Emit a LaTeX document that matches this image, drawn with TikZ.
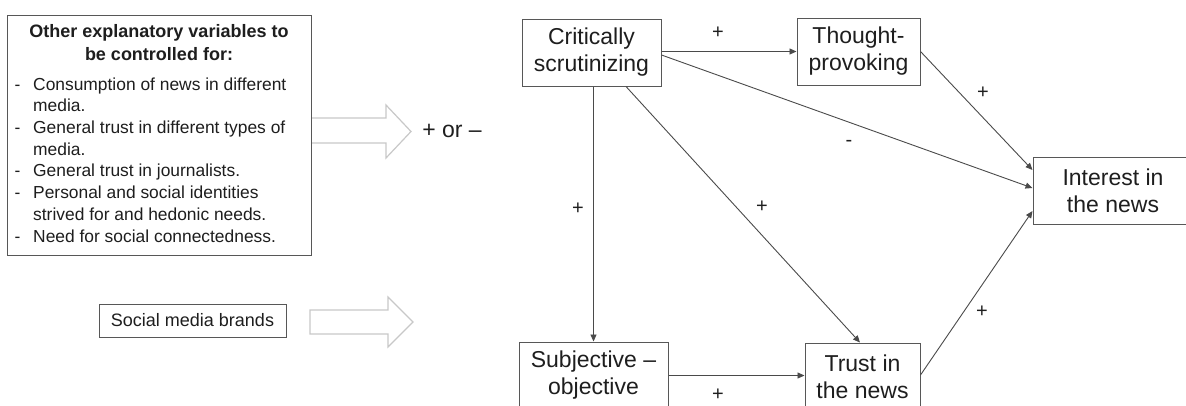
\documentclass[tikz,border=0pt]{standalone}
\usepackage{fontspec}
\setmainfont{Liberation Sans}
\usetikzlibrary{arrows.meta,calc}
\definecolor{boxgray}{HTML}{575757}
\definecolor{linegray}{HTML}{4A4A4A}
\definecolor{arrowgray}{HTML}{C8C8C8}
\definecolor{txt}{HTML}{1E1E1E}
\begin{document}
\begin{tikzpicture}[x=1pt,y=-1pt,
  varbox/.style={draw=boxgray,line width=1pt,fill=white,text=txt,align=center,inner sep=0pt,font=\fontsize{23}{27}\selectfont},
  conn/.style={draw=linegray,line width=0.9pt,-{Triangle[length=7pt,width=6pt]}},
  sign/.style={text=txt,font=\fontsize{20}{24}\selectfont,inner sep=0pt},
  blockarrow/.style={draw=arrowgray,line width=1.2pt,fill=white,line join=miter}]
\useasboundingbox (0,0) rectangle (1186,405);
\clip (0,0) rectangle (1186,405);

% block arrows
\draw[blockarrow] (311,118) -- (386,118) -- (386,105) -- (411,131.5) -- (386,158) -- (386,143) -- (311,143) -- cycle;
\draw[blockarrow] (310,310) -- (388,310) -- (388,297) -- (413,322) -- (388,347) -- (388,334) -- (310,334) -- cycle;

% left box with control variables
\node[draw=boxgray,line width=1pt,fill=white,minimum width=304pt,minimum height=240pt,inner sep=0pt] (ctrl) at (159,135) {};
\node[anchor=north,text=txt,align=center,inner sep=0pt,font=\bfseries\fontsize{18}{23}\selectfont] (ctrlhead) at (159,23.8) {Other explanatory variables to\\be controlled for:};
\node[anchor=north west,text=txt,inner sep=0pt,font=\fontsize{17.4}{21.7}\selectfont] (ctrllist) at (14.5,74.8) {%
\begin{tabular}{@{}p{18.5pt}@{}l@{}}
-& Consumption of news in different\\
 & media.\\
-& General trust in different types of\\
 & media.\\
-& General trust in journalists.\\
-& Personal and social identities\\
 & strived for and hedonic needs.\\
-& Need for social connectedness.
\end{tabular}};

\node[draw=boxgray,line width=1pt,fill=white,text=txt,inner sep=0pt,minimum width=187pt,minimum height=33pt,font=\fontsize{18}{21}\selectfont] (smb) at (192.5,320.5) {Social media brands};

\node[text=txt,inner sep=0pt,font=\fontsize{23}{27}\selectfont] (pm) at (452,131) {+ or –};

% model boxes
\node[varbox,minimum width=139pt,minimum height=67pt] (crit) at (591.5,52.5) {Critically\\scrutinizing};
\node[varbox,minimum width=123pt,minimum height=67pt] (thought) at (858.5,51.5) {Thought-\\provoking};
\node[varbox,minimum width=160pt,minimum height=67pt] (interest) at (1113,190.5) {Interest in\\the news};
\node[varbox,minimum width=149pt,minimum height=67pt] (subj) at (593.5,375.5) {Subjective –\\objective};
\node[varbox,minimum width=115pt,minimum height=67pt] (trust) at (862.5,376.5) {Trust in\\the news};

% connectors
\draw[conn] (crit.east |- thought.west) -- (thought.west);
\draw[conn] (crit.south -| subj.north) -- (subj.north);
\draw[conn] ([xshift=34.5pt]crit.south) -- ([xshift=-2.5pt]trust.north);
\draw[conn] ([yshift=-2.5pt]crit.east) -- ([yshift=2.5pt]interest.west);
\draw[conn] (thought.east) -- ([yshift=20.5pt]interest.west);
\draw[conn] ([yshift=1.5pt]trust.east) -- ([yshift=-20.5pt]interest.west);
\draw[conn] (subj.east) -- (subj.east -| trust.west);

% signs
\node[sign] (s1) at (718,33) {+};
\node[sign] (s2) at (983,93) {+};
\node[sign,yshift=2pt] (s3) at (849,145) {-};
\node[sign] (s4) at (578,209) {+};
\node[sign] (s5) at (762,207) {+};
\node[sign] (s6) at (982,312) {+};
\node[sign] (s7) at (718,395) {+};
\end{tikzpicture}
\end{document}
